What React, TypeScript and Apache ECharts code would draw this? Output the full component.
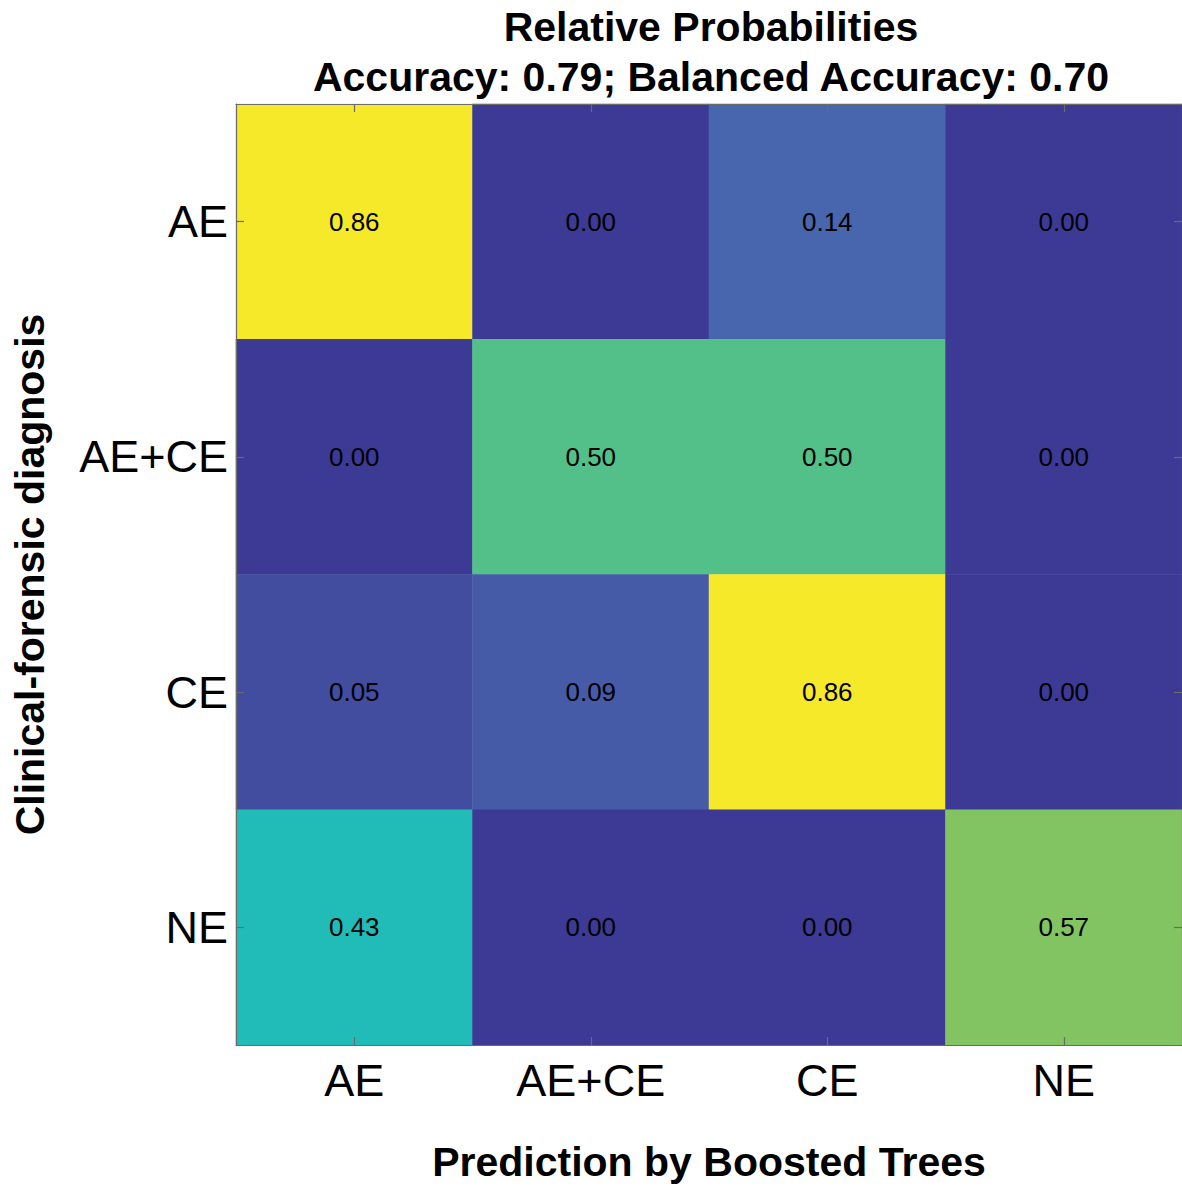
import React, { useEffect, useRef } from "react";
import * as echarts from "echarts";

const predictedCategories = ["AE", "AE+CE", "CE", "NE"];
const trueCategories = ["AE", "AE+CE", "CE", "NE"];
// rows: true class (clinical-forensic diagnosis); columns: predicted class
const rowAE = [0.86, 0.0, 0.14, 0.0];
const rowAECE = [0.0, 0.5, 0.5, 0.0];
const rowCE = [0.05, 0.09, 0.86, 0.0];
const rowNE = [0.43, 0.0, 0.0, 0.57];
const titleLine1 = "Relative Probabilities";
const titleLine2 = "Accuracy: 0.79; Balanced Accuracy: 0.70";
const xTitle = "Prediction by Boosted Trees";
const yTitle = "Clinical-forensic diagnosis";
const colorStops = [
  "#3d3a96",
  "#4862ac",
  "#476fb3",
  "#2f98c0",
  "#21bcb8",
  "#6ec271",
  "#b0c640",
  "#ead236",
  "#f6e929",
];

const FONT = "'Liberation Sans', Arial, Helvetica, sans-serif";

export default function App() {
  const ref = useRef<HTMLDivElement>(null);
  useEffect(() => {
    document.body.style.margin = "0";
    document.body.style.overflow = "hidden";
    if (!ref.current) return;
    const chart = echarts.init(ref.current, undefined, { renderer: "svg", width: 1182, height: 1187 });
    const rows = [rowAE, rowAECE, rowCE, rowNE];
    const data: [number, number, number][] = [];
    rows.forEach((r, yi) => r.forEach((v, xi) => data.push([xi, yi, v])));

    const axisLine = { show: true, lineStyle: { color: "#6b6b6b", width: 1.2 } };
    const tick = { show: true, inside: true, length: 8, alignWithLabel: true, lineStyle: { color: "#6b6b6b", width: 1.2 } };

    chart.setOption({
      animation: false,
      backgroundColor: "#ffffff",
      grid: { left: 236, top: 104, right: 0, bottom: 138, containLabel: false },
      graphic: [
        {
          type: "text",
          x: 711,
          y: 27,
          style: { text: titleLine1, font: `bold 41px ${FONT}`, fill: "#000", textAlign: "center", textVerticalAlign: "middle" },
        },
        {
          type: "text",
          x: 711,
          y: 77,
          style: { text: titleLine2, font: `bold 41px ${FONT}`, fill: "#000", textAlign: "center", textVerticalAlign: "middle" },
        },
      ],
      visualMap: {
        show: false,
        type: "continuous",
        min: 0,
        max: 0.86,
        dimension: 2,
        seriesIndex: 0,
        inRange: { color: colorStops },
      },
      xAxis: [
        {
          type: "category",
          data: predictedCategories,
          position: "bottom",
          z: 10,
          axisLine,
          axisTick: tick,
          axisLabel: { fontSize: 45, color: "#000", fontFamily: FONT, margin: 13 },
          splitLine: { show: false },
          name: xTitle,
          nameLocation: "middle",
          nameGap: 96,
          nameTextStyle: { fontSize: 41, fontWeight: "bold", color: "#000", fontFamily: FONT },
        },
        {
          type: "category",
          data: predictedCategories,
          position: "top",
          z: 10,
          axisLine,
          axisTick: tick,
          axisLabel: { show: false },
        },
      ],
      yAxis: [
        {
          type: "category",
          data: trueCategories,
          inverse: true,
          position: "left",
          z: 10,
          axisLine,
          axisTick: tick,
          axisLabel: { fontSize: 45, color: "#000", fontFamily: FONT, margin: 8 },
          name: yTitle,
          nameLocation: "middle",
          nameGap: 186,
          nameRotate: 90,
          nameTextStyle: { fontSize: 41, fontWeight: "bold", color: "#000", fontFamily: FONT },
        },
        {
          type: "category",
          data: trueCategories,
          inverse: true,
          position: "right",
          z: 10,
          axisLine,
          axisTick: tick,
          axisLabel: { show: false },
        },
      ],
      series: [
        {
          type: "heatmap",
          xAxisIndex: 0,
          yAxisIndex: 0,
          data,
          label: {
            show: true,
            color: "#000",
            fontSize: 26,
            fontFamily: FONT,
            formatter: (p: any) => (p.value[2] as number).toFixed(2),
          },
          itemStyle: { borderWidth: 0 },
        },
      ],
    });
    return () => chart.dispose();
  }, []);
  return <div ref={ref} style={{ width: 1182, height: 1187 }} />;
}
